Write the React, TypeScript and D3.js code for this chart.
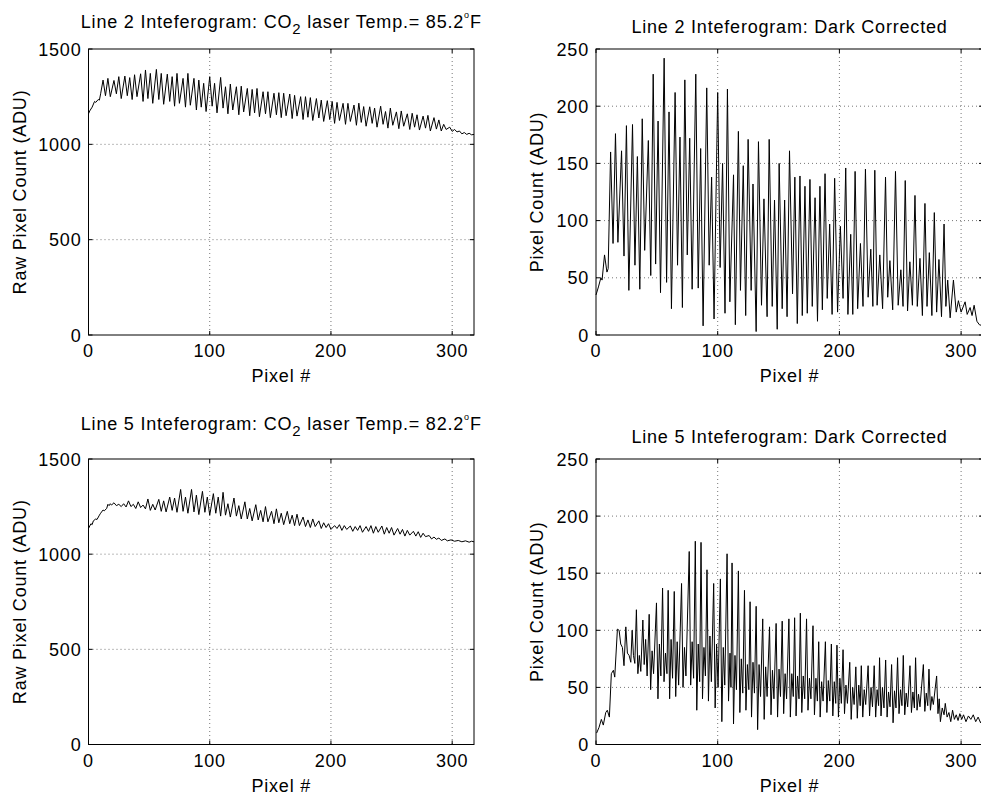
import React from 'react';
import * as d3 from 'd3';

// pixel # -> counts (peaks / troughs of each fringe)
const line2Raw: [number, number][] = [
  [0,1160],[1,1175],[3,1195],[5,1225],[6,1220],[8,1235],[9,1232],[10,1265],
  [12,1337],[14,1255],[16,1346],[18,1250],[21,1335],[23,1265],[25,1355],[27,1240],[30,1358],[32,1255],
  [34,1350],[36,1235],[38,1365],[40,1250],[43,1370],[45,1225],[47,1390],[49,1240],[51,1372],[53,1215],
  [56,1393],[58,1235],[60,1372],[62,1210],[65,1368],[67,1225],[69,1355],[71,1200],[73,1372],[75,1215],
  [78,1346],[80,1195],[82,1372],[84,1205],[87,1346],[89,1180],[91,1337],[93,1195],[95,1320],[97,1172],
  [100,1355],[102,1200],[104,1320],[106,1165],[109,1351],[111,1190],[113,1302],[115,1160],[117,1316],
  [119,1180],[122,1302],[124,1155],[126,1305],[128,1170],[131,1293],[133,1150],[135,1288],[137,1165],
  [139,1293],[141,1145],[144,1276],[146,1160],[148,1276],[150,1140],[153,1268],[155,1155],[157,1271],
  [159,1140],[161,1268],[163,1150],[166,1264],[168,1135],[170,1257],[172,1148],[175,1250],[177,1130],
  [179,1250],[181,1142],[183,1245],[185,1125],[188,1240],[190,1138],[192,1232],[194,1120],[197,1229],
  [199,1130],[201,1225],[203,1110],[205,1220],[207,1125],[210,1215],[212,1105],[214,1215],[216,1120],
  [219,1206],[221,1100],[223,1216],[225,1115],[227,1198],[229,1095],[232,1197],[234,1110],[236,1190],
  [238,1090],[241,1200],[243,1105],[245,1172],[247,1085],[249,1190],[251,1100],[254,1170],[256,1082],
  [258,1175],[260,1095],[263,1160],[265,1078],[267,1163],[269,1090],[271,1155],[273,1075],[276,1148],
  [278,1085],[280,1152],[282,1070],[285,1140],[287,1080],[289,1128],[291,1070],[293,1105],[295,1078],
  [298,1090],[300,1068],[302,1078],[304,1065],[306,1070],[308,1055],[310,1062],[312,1052],[314,1058],
  [316,1050],[318,1052],
];

const line2Dark: [number, number][] = [
  [0,35],[2,42],[4,50],[5,48],[7,70],[9,55],[10,58],[12,160],[14,80],[16,176],[18,81],[21,161],[23,69],
  [25,183],[27,39],[30,184],[32,61],[34,156],[36,40],[38,189],[40,74],[43,170],[45,52],[47,228],[49,62],
  [51,187],[53,37],[56,242],[58,46],[60,195],[62,23],[65,212],[67,61],[69,173],[71,24],[73,223],[75,70],
  [77,172],[79,40],[82,228],[84,41],[86,163],[88,8],[91,216],[93,61],[95,138],[97,14],[100,212],[102,59],
  [104,150],[106,19],[108,215],[110,29],[113,140],[114.5,9],[117,178],[118.7,39],[121,148],[123,17],
  [125,171],[127.5,39],[129,132],[131.6,3],[133.5,169],[136,26],[138,119],[140.6,16],[142.3,171],
  [144.8,25],[146.7,118],[148.9,5],[150.5,150],[153,23],[155,118],[157,16],[159,161],[161.5,36],
  [163.4,138],[165.4,10],[167.6,139],[169.5,17],[171.7,130],[173.6,19],[175.8,136],[177.7,25],[180,120],
  [182,12],[184,130],[186,22],[188.2,141],[190,32],[192,97],[194,18],[196.1,137],[198.5,20],[200.8,95],
  [203,32],[205.2,146],[207,18],[209.3,88],[211,18],[212.9,143],[215,23],[217.3,80],[219.4,25],
  [221.4,145],[223.6,33],[225.8,75],[227.5,25],[229.1,144],[231,26],[233.2,70],[235.5,23],[237.9,138],
  [239.7,33],[241.5,65],[243.8,22],[246.1,143],[248.3,26],[250.5,57],[252.3,25],[254.1,135],[256,21],
  [257.9,64],[260,26],[262.1,122],[264,25],[266.2,67],[268.2,17],[270.3,115],[272,25],[273.9,72],
  [276,17],[278,107],[279.9,20],[281.8,66],[283.9,16],[286,97],[287.5,25],[289,48],[291,15],[293.7,48],
  [296,20],[297.8,30],[300,20],[303.3,29],[305,18],[307.4,24],[309,17],[310.7,26],[313,12],[315,9],
  [318,8],
];

const line5Raw: [number, number][] = [
  [0,1135],[2,1160],[3,1155],[4,1175],[6,1185],[7,1182],[9,1205],[10,1215],[12,1232],[13,1228],
  [15,1240],[16,1262],[17,1255],[18,1265],[19,1258],[21,1270],[23,1255],[25,1262],[27,1250],[29,1265],
  [31,1248],[33,1280],[35,1250],[37,1262],[39,1240],[41,1275],[43,1245],[45,1258],[47,1238],[49,1290],
  [51,1230],[53,1262],[55,1232],[58,1288],[60,1225],[62,1280],[64,1222],[67,1300],[69,1230],[71,1295],
  [73,1220],[76,1340],[78,1225],[80,1300],[82,1215],[85,1340],[87,1222],[89,1310],[91,1208],[94,1330],
  [96,1220],[98,1300],[100,1205],[103,1318],[105,1215],[107,1300],[109,1200],[111,1325],[113,1205],
  [115,1265],[117,1195],[120,1295],[122,1200],[124,1255],[126,1185],[129,1275],[131,1185],[133,1240],
  [135,1175],[138,1260],[140,1180],[142,1230],[144,1170],[146,1250],[148,1170],[151,1225],[153,1160],
  [155,1238],[157,1165],[159,1215],[161,1155],[164,1225],[166,1160],[168,1205],[170,1150],[172,1210],
  [174,1150],[177,1195],[179,1145],[181,1180],[183,1140],[185,1185],[187,1145],[190,1175],[192,1135],
  [194,1165],[196,1140],[198,1160],[200,1130],[203,1150],[205,1135],[207,1155],[209,1125],[211,1150],
  [213,1130],[216,1148],[218,1120],[220,1145],[222,1125],[224,1150],[226,1115],[229,1145],[231,1120],
  [233,1150],[235,1110],[237,1145],[239,1115],[242,1148],[244,1105],[246,1140],[248,1110],[250,1140],
  [252,1100],[255,1135],[257,1105],[259,1130],[261,1095],[263,1125],[265,1100],[268,1120],[270,1095],
  [272,1118],[274,1088],[276,1110],[278,1092],[281,1098],[283,1080],[285,1090],[287,1078],[289,1085],
  [291,1072],[294,1080],[296,1070],[299,1075],[302,1068],[305,1072],[308,1065],[311,1070],[314,1063],
  [316,1068],[318,1065],
];

const line5Dark: [number, number][] = [
  [0.5,10],[2.5,15],[4.4,22],[6,17],[8,28],[9.3,30],[11,24],[12.6,62],[14.3,65],[15.4,59],[17.6,101],
  [19,100],[20.3,88],[21.7,85],[23,69],[24.5,103],[25.8,80],[27.2,78],[28.6,72],[29.7,100],[30.8,78],
  [31.9,71],[33.2,118],[34.4,62],[35.6,78],[36.8,64],[38.5,109],[39.6,70],[40.8,92],[42,60],
  [43.7,114],[44.9,48],[46.1,82],[47.3,62],[49.7,124],[50.9,40],[52.1,88],[53.3,60],
  [54.7,137],[55.9,55],[57.1,80],[58.3,62],[59.3,135],[60.5,40],[61.7,92],[62.9,58],
  [64.3,134],[65.5,42],[66.7,90],[67.9,52],[70.3,141],[71.5,50],[72.7,85],[73.9,60],
  [76.6,169],[77.8,52],[79,90],[80.2,58],[81.6,178],[82.8,30],[84,88],[85.2,55],
  [86.3,177],[87.5,40],[88.7,85],[89.9,60],[91.2,153],[92.4,38],[93.6,95],[94.8,55],
  [96.7,141],[97.9,32],[99.1,88],[100.3,50],[102.2,145],[103.4,20],[104.6,85],[105.8,52],
  [107.7,167],[108.9,38],[110.1,80],[110.9,50],[111.8,159],[113,18],[114.2,78],[115.4,48],
  [117,152],[118.2,28],[119.4,75],[120.6,45],[122,135],[123.2,30],[124.4,70],[125.6,48],
  [126.6,125],[127.8,24],[129,72],[130.2,45],[131.6,121],[132.8,13],[134,70],[135.2,42],
  [137,110],[138.2,22],[139.4,68],[140.6,42],[142.6,103],[143.8,26],[145,65],[146.2,40],
  [148,106],[149.2,24],[150.4,66],[151.6,42],[153,108],[154.2,27],[155.4,62],[156.6,40],
  [158.5,110],[159.7,24],[160.9,62],[162.1,42],[163.2,111],[164.4,25],[165.6,60],[166.8,40],
  [167.9,115],[169.1,28],[170.3,60],[171.5,40],[173,110],[174.2,30],[175.4,58],[176.6,40],
  [178.3,104],[179.5,26],[180.7,58],[181.9,38],[183,90],[184.2,24],[185.4,55],[186.6,38],
  [188.5,90],[189.7,28],[190.9,56],[192.1,38],[193.4,88],[194.6,25],[195.8,55],[197,36],
  [198,87],[199.2,24],[200.4,58],[201.6,36],[203,83],[204.2,27],[205.4,52],[206.6,36],
  [208.5,72],[209.7,22],[210.9,50],[212.1,35],[213.5,68],[214.7,23],[215.9,52],[217.1,34],
  [218,69],[219.2,24],[220.4,48],[221.6,35],[223.6,69],[224.8,25],[226,50],[227.2,33],
  [228.6,69],[229.8,24],[231,48],[232.2,34],[233,76],[234.2,25],[235.4,50],[236.6,32],
  [238,74],[239.2,24],[240.4,46],[241.6,33],[242.9,70],[244.1,19],[245.3,47],[246.5,32],
  [247.8,76],[249,27],[250.2,48],[251.4,34],[252.5,78],[253.7,26],[254.9,45],[256.1,33],
  [258,69],[259.2,28],[260.4,46],[261.6,32],[262.6,76],[263.8,30],[265,44],[266.2,33],
  [269,70],[270.2,29],[271.4,45],[272.6,34],[273.6,66],[274.8,30],[276,42],[277.2,35],
  [279.9,60],[281,27],[282,40],[283,20],[284.5,32],[286,26],[287,36],[288.5,24],[290,28],[291.5,20],
  [293,30],[294.5,22],[296,26],[297.5,21],[299,27],[300.5,22],[302,26],[304,20],[306,25],[308,22],
  [310,26],[312,20],[314,24],[316,19],[318,23],
];

const pixelTicks = [0, 100, 200, 300];
const rawTicks = [0, 500, 1000, 1500];
const darkTicks = [0, 50, 100, 150, 200, 250];

const FONT = '"Liberation Sans", Arial, Helvetica, sans-serif';

type PanelProps = {
  left: number;
  width: number;
  top: number;
  bottom: number;
  data: [number, number][];
  yMax: number;
  yTicks: number[];
  yLabel: string;
  title: React.ReactNode;
  titleY: number;
  labelX: number;
};

function Panel({ left, width, top, bottom, data, yMax, yTicks, yLabel, title, titleY, labelX }: PanelProps) {
  const right = left + width;
  const x = d3.scaleLinear().domain([0, 318]).range([left, right]);
  const y = d3.scaleLinear().domain([0, yMax]).range([bottom, top]);
  const line = d3.line<[number, number]>().x(d => x(d[0])).y(d => y(d[1]));
  const mid = (left + right) / 2;
  return (
    <g>
      {/* grid */}
      {pixelTicks.filter(t => t > 0).map(t => (
        <line key={'gx' + t} x1={x(t)} x2={x(t)} y1={top} y2={bottom}
          stroke="#777" strokeDasharray="1,3" strokeWidth={1} />
      ))}
      {yTicks.filter(t => t > 0 && t < yMax).map(t => (
        <line key={'gy' + t} x1={left} x2={right} y1={y(t)} y2={y(t)}
          stroke="#777" strokeDasharray="1,3" strokeWidth={1} />
      ))}
      <path d={line(data) || ''} fill="none" stroke="#000" strokeWidth={1} strokeLinejoin="round" />
      <rect x={left} y={top} width={width} height={bottom - top} fill="none" stroke="#000" strokeWidth={1} />
      {pixelTicks.map(t => (
        <g key={'tx' + t}>
          <line x1={x(t)} x2={x(t)} y1={bottom} y2={bottom - 4} stroke="#000" />
          <line x1={x(t)} x2={x(t)} y1={top} y2={top + 4} stroke="#000" />
          <text x={x(t)} y={bottom + 22} textAnchor="middle">{t}</text>
        </g>
      ))}
      {yTicks.map(t => (
        <g key={'ty' + t}>
          <line x1={left} x2={left + 4} y1={y(t)} y2={y(t)} stroke="#000" />
          <line x1={right} x2={right - 4} y1={y(t)} y2={y(t)} stroke="#000" />
          <text x={left - 7} y={y(t) + 6.5} textAnchor="end">{t}</text>
        </g>
      ))}
      <text x={mid} y={bottom + 47} textAnchor="middle">Pixel #</text>
      <text transform={`translate(${labelX},${(top + bottom) / 2}) rotate(-90)`} textAnchor="middle">{yLabel}</text>
      <text x={mid} y={titleY} textAnchor="middle">{title}</text>
    </g>
  );
}

function LaserTitle({ line, temp }: { line: number; temp: string }) {
  return (
    <>
      {`Line ${line} Inteferogram: CO`}
      <tspan dy={6} fontSize={15}>2</tspan>
      <tspan dy={-6}>{` laser Temp.= ${temp}`}</tspan>
      <tspan dy={-10} fontSize={9}>o</tspan>
      <tspan dy={10}>F</tspan>
    </>
  );
}

export default function App() {
  return (
    <svg width={981} height={798} style={{ position: 'absolute', left: 0, top: 0, background: '#fff' }}
      fontFamily={FONT} fontSize={18} letterSpacing={0.8} fill="#000">
      <rect width={981} height={798} fill="#fff" />
      <Panel left={88.5} width={385.5} top={49} bottom={335} data={line2Raw} yMax={1500} yTicks={rawTicks}
        yLabel="Raw Pixel Count (ADU)" labelX={26} titleY={27.5}
        title={<LaserTitle line={2} temp="85.2" />} />
      <Panel left={596} width={387} top={49} bottom={335} data={line2Dark} yMax={250} yTicks={darkTicks}
        yLabel="Pixel Count (ADU)" labelX={543} titleY={33.3}
        title="Line 2 Inteferogram: Dark Corrected" />
      <Panel left={88.5} width={385.5} top={459} bottom={744.5} data={line5Raw} yMax={1500} yTicks={rawTicks}
        yLabel="Raw Pixel Count (ADU)" labelX={26} titleY={430}
        title={<LaserTitle line={5} temp="82.2" />} />
      <Panel left={596} width={387} top={459} bottom={744.5} data={line5Dark} yMax={250} yTicks={darkTicks}
        yLabel="Pixel Count (ADU)" labelX={543} titleY={443.3}
        title="Line 5 Inteferogram: Dark Corrected" />
    </svg>
  );
}
